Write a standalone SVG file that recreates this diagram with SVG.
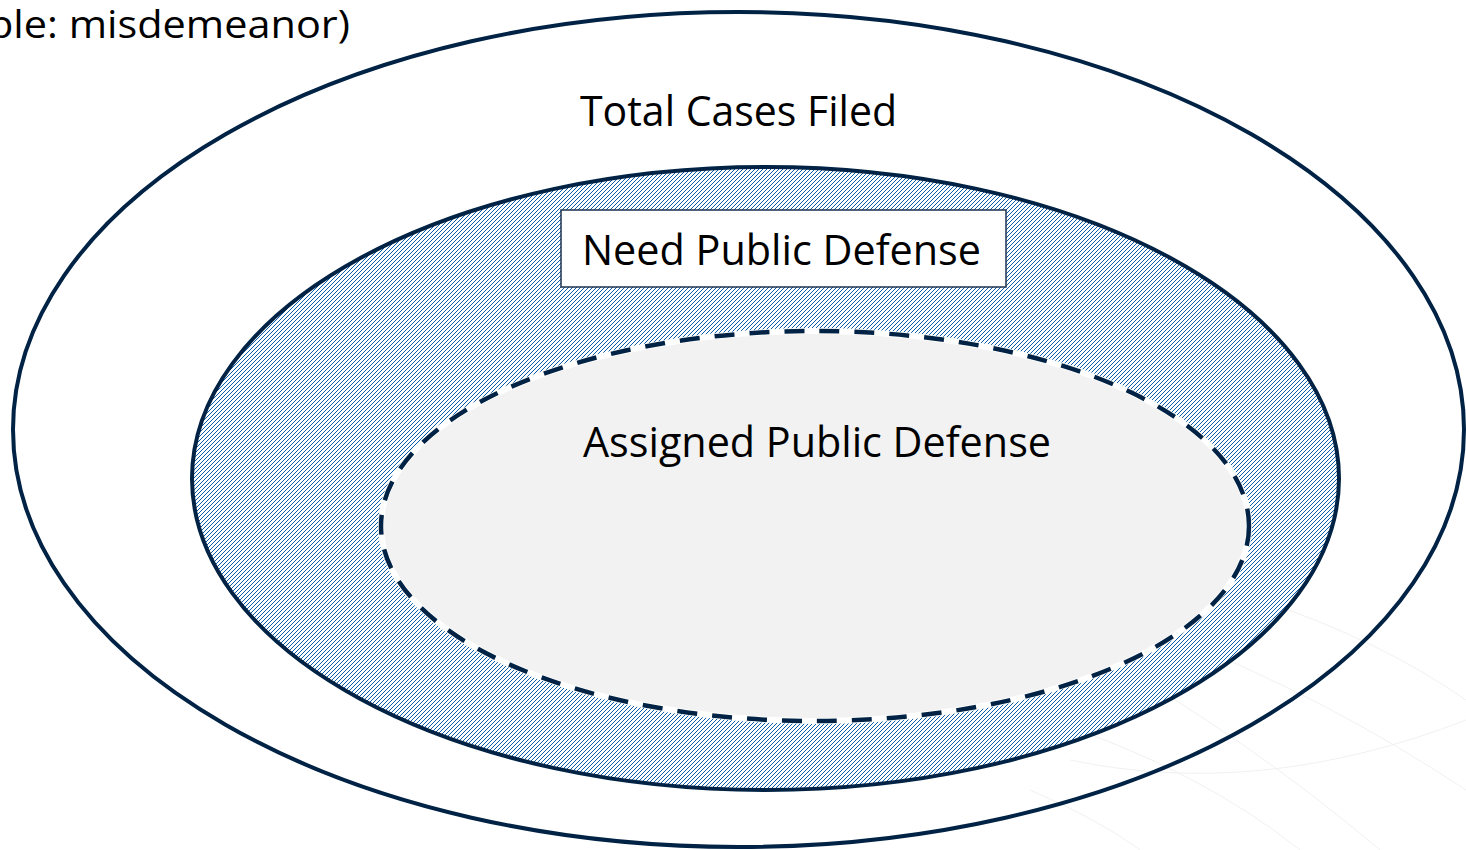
<svg xmlns="http://www.w3.org/2000/svg" width="1466" height="850" viewBox="0 0 1466 850">
  <style>
    .ring { fill: none; stroke: #002345; stroke-width: 4; }
    .label { font-family: "Open Sans", "Noto Sans", "Liberation Sans", sans-serif; fill: #000000; }
    .bg { fill: none; stroke: #f1f1f1; stroke-width: 1; }
    .px { fill: #0a5cad; shape-rendering: crispEdges; }
  </style>
  <defs>
    <pattern id="hatch" x="0" y="0" width="4" height="4" patternUnits="userSpaceOnUse">
      <rect width="4" height="4" fill="#ffffff"/>
      <rect class="px" x="3" y="0" width="1" height="1"/>
      <rect class="px" x="2" y="1" width="1" height="1"/>
      <rect class="px" x="1" y="2" width="1" height="1"/>
      <rect class="px" x="0" y="3" width="1" height="1"/>
    </pattern>
  </defs>
  <rect width="1466" height="850" fill="#ffffff"/>
  <g id="background-lines">
    <path class="bg" d="M1070,760 Q1260,800 1466,720"/>
    <path class="bg" d="M1100,655 Q1250,740 1380,850"/>
    <path class="bg" d="M1180,640 Q1330,700 1466,790"/>
    <path class="bg" d="M1260,600 Q1380,640 1466,700"/>
    <path class="bg" d="M1030,790 Q1100,820 1140,850"/>
    <path class="bg" d="M1050,720 Q1200,770 1300,850"/>
  </g>
  <text id="caption" class="label" x="-12" y="38" font-size="38" textLength="362" lengthAdjust="spacingAndGlyphs">ple: misdemeanor)</text>
  <g id="total-cases">
    <ellipse class="ring" cx="738.5" cy="429.5" rx="725.5" ry="417.5"/>
    <text class="label" x="580" y="126" font-size="42" textLength="317" lengthAdjust="spacingAndGlyphs">Total Cases Filed</text>
  </g>
  <g id="need-public-defense">
    <ellipse cx="765.5" cy="478.5" rx="573.5" ry="311.5" fill="url(#hatch)" stroke="#002345" stroke-width="4"/>
    <rect x="561" y="210" width="445" height="77" fill="#ffffff" stroke="#1a3350" stroke-width="1.5"/>
    <text class="label" x="582" y="265" font-size="42" textLength="399" lengthAdjust="spacingAndGlyphs">Need Public Defense</text>
  </g>
  <g id="assigned-public-defense">
    <ellipse cx="815" cy="526" rx="434" ry="195" fill="#f2f2f2" stroke="#ffffff" stroke-width="6"/>
    <ellipse cx="815" cy="526" rx="434" ry="195" fill="none" stroke="#002345" stroke-width="4.5" stroke-dasharray="20 15"/>
    <text class="label" x="583" y="457" font-size="42" textLength="468" lengthAdjust="spacingAndGlyphs">Assigned Public Defense</text>
  </g>
  <g id="connectors"></g>
</svg>
